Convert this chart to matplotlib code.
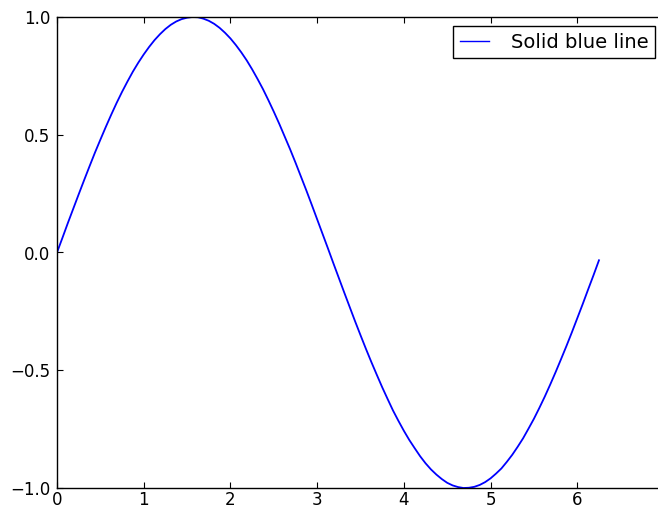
import matplotlib
matplotlib.use('Agg')
import matplotlib.pyplot as plt

# Werte (Schritt 0.0625)
x_werte = [0.0, 0.0625, 0.125, 0.1875, 0.25, 0.3125, 0.375, 0.4375, 0.5, 0.5625,
           0.625, 0.6875, 0.75, 0.8125, 0.875, 0.9375, 1.0, 1.0625, 1.125, 1.1875,
           1.25, 1.3125, 1.375, 1.4375, 1.5, 1.5625, 1.625, 1.6875, 1.75, 1.8125,
           1.875, 1.9375, 2.0, 2.0625, 2.125, 2.1875, 2.25, 2.3125, 2.375, 2.4375,
           2.5, 2.5625, 2.625, 2.6875, 2.75, 2.8125, 2.875, 2.9375, 3.0, 3.0625,
           3.125, 3.1875, 3.25, 3.3125, 3.375, 3.4375, 3.5, 3.5625, 3.625, 3.6875,
           3.75, 3.8125, 3.875, 3.9375, 4.0, 4.0625, 4.125, 4.1875, 4.25, 4.3125,
           4.375, 4.4375, 4.5, 4.5625, 4.625, 4.6875, 4.75, 4.8125, 4.875, 4.9375,
           5.0, 5.0625, 5.125, 5.1875, 5.25, 5.3125, 5.375, 5.4375, 5.5, 5.5625,
           5.625, 5.6875, 5.75, 5.8125, 5.875, 5.9375, 6.0, 6.0625, 6.125, 6.1875,
           6.25]
y_werte = [0.0, 0.062, 0.125, 0.186, 0.247, 0.307, 0.366, 0.424, 0.479, 0.533,
           0.585, 0.635, 0.682, 0.726, 0.768, 0.806, 0.841, 0.873, 0.902, 0.927,
           0.949, 0.967, 0.981, 0.991, 0.997, 1.0, 0.999, 0.993, 0.984, 0.971,
           0.954, 0.933, 0.909, 0.881, 0.85, 0.816, 0.778, 0.737, 0.694, 0.647,
           0.598, 0.547, 0.493, 0.439, 0.382, 0.323, 0.264, 0.203, 0.141, 0.079,
           0.017, -0.046, -0.108, -0.17, -0.231, -0.292, -0.351, -0.409, -0.465, -0.519,
           -0.572, -0.622, -0.671, -0.715, -0.757, -0.796, -0.831, -0.865, -0.895, -0.921,
           -0.943, -0.962, -0.978, -0.989, -0.996, -1.0, -0.999, -0.995, -0.987, -0.975,
           -0.959, -0.939, -0.917, -0.889, -0.859, -0.825, -0.789, -0.748, -0.706, -0.66,
           -0.612, -0.561, -0.508, -0.453, -0.397, -0.339, -0.279, -0.219, -0.157, -0.096,
           -0.033]
label = 'Solid blue line'
x_ticks = [0, 1, 2, 3, 4, 5, 6]
y_ticks = [-1.0, -0.5, 0.0, 0.5, 1.0]
y_tick_labels = ['\u22121.0', '\u22120.5', '0.0', '0.5', '1.0']

plt.rcParams['font.family'] = 'DejaVu Sans'
plt.rcParams['font.size'] = 12

fig = plt.figure(figsize=(6.58, 5.08), dpi=100)
# rechte Achsenkante liegt ausserhalb des Bildes
ax = fig.add_axes([57 / 658, 20 / 508, 607 / 658, 471 / 508])

ax.plot(x_werte, y_werte, color='b', linewidth=1.3, label=label)

ax.set_xlim(0, 7)
ax.set_ylim(-1, 1)
ax.set_xticks(x_ticks)
ax.set_yticks(y_ticks)
ax.set_yticklabels(y_tick_labels)
ax.tick_params(direction='in', top=True, right=True, length=4, width=0.8)
ax.tick_params(axis='x', pad=2)
ax.tick_params(axis='y', pad=5)

for s in ax.spines.values():
    s.set_linewidth(1.0)

leg = ax.legend(loc='upper right', fancybox=False, edgecolor='black',
                framealpha=1, fontsize=14, borderpad=0.35, borderaxespad=0.45,
                handlelength=1.5, handletextpad=1.1)
leg.get_frame().set_linewidth(1.0)
leg.get_lines()[0].set_linewidth(1.0)

fig.savefig('out.png', dpi=100)
